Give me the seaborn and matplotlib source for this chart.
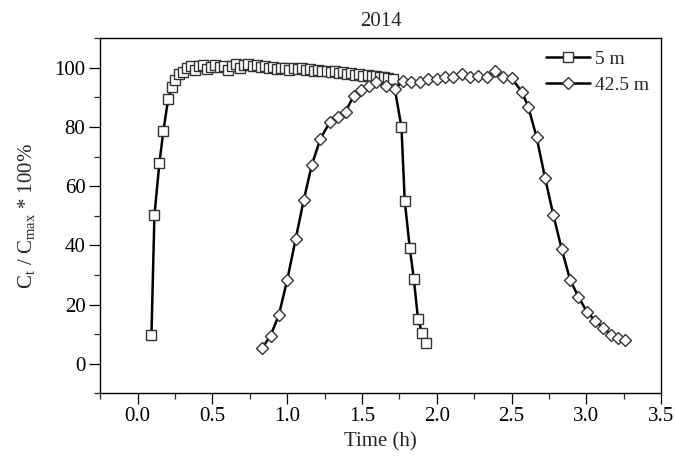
import matplotlib
matplotlib.use("Agg")
import matplotlib.pyplot as plt
import seaborn as sns
from matplotlib.ticker import MultipleLocator

# ---- data ----
sq_t = [0.092, 0.112, 0.145, 0.172, 0.204, 0.228, 0.250, 0.275,
        0.300, 0.328, 0.355, 0.383, 0.410, 0.438, 0.465, 0.493, 0.520, 0.548,
        0.575, 0.603, 0.630, 0.658, 0.685, 0.713, 0.740, 0.768, 0.795, 0.823,
        0.850, 0.878, 0.905, 0.933, 0.960, 0.988, 1.015, 1.043, 1.070, 1.098,
        1.125, 1.153, 1.180, 1.208, 1.235, 1.263, 1.290, 1.318, 1.345, 1.373,
        1.400, 1.428, 1.455, 1.483, 1.510, 1.538, 1.565, 1.593, 1.620, 1.648,
        1.675, 1.708, 1.764, 1.786, 1.820, 1.847, 1.875, 1.902, 1.925]
sq_v = [9.6, 50.2, 67.7, 78.8, 89.5, 93.4, 95.9, 97.9,
        98.6, 99.8, 100.8, 99.2, 100.5, 100.9, 99.6, 100.4, 101.0, 100.2,
        100.6, 99.4, 100.7, 101.2, 100.1, 100.9, 101.3, 100.5, 101.0, 100.3,
        100.8, 99.9, 100.4, 99.6, 100.1, 99.8, 99.3, 100.0, 99.5, 99.9,
        99.2, 99.7, 99.0, 99.4, 98.8, 99.1, 98.5, 98.9, 98.3, 98.6,
        98.0, 98.3, 97.7, 97.9, 97.4, 97.6, 97.1, 97.3, 96.9, 97.0,
        96.6, 96.2, 80.0, 55.0, 39.0, 28.5, 15.0, 10.5, 7.0]

di_t = [0.833, 0.889, 0.944, 1.000, 1.056, 1.110, 1.165, 1.222, 1.284, 1.340,
        1.390, 1.445, 1.496, 1.545, 1.597, 1.664, 1.719, 1.775, 1.831, 1.887,
        1.942, 1.999, 2.054, 2.110, 2.166, 2.222, 2.277, 2.333, 2.389, 2.445,
        2.501, 2.568, 2.612, 2.668, 2.724, 2.780, 2.836, 2.892, 2.947, 3.003,
        3.059, 3.115, 3.166, 3.215, 3.260]
di_v = [5.3, 9.5, 16.5, 28.3, 42.0, 55.2, 67.3, 76.0, 81.6, 83.3,
        85.2, 90.6, 92.5, 93.9, 95.1, 93.9, 92.8, 95.6, 95.1, 95.1,
        96.2, 96.2, 96.8, 96.8, 97.9, 96.8, 97.3, 96.8, 98.8, 96.8,
        96.5, 92.0, 86.9, 76.5, 62.9, 50.2, 38.7, 28.3, 22.7, 17.6,
        14.6, 12.0, 9.8, 8.7, 8.1]

labels = ["5 m", "42.5 m"]
title = "2014"
xlabel = "Time (h)"
ylabel = r"C$_\mathregular{t}$ / C$_\mathregular{max}$ * 100%"
xticks = [0.0, 0.5, 1.0, 1.5, 2.0, 2.5, 3.0, 3.5]
xticklabels = ["0.0", "0.5", "1.0", "1.5", "2.0", "2.5", "3.0", "3.5"]
yticks = [0, 20, 40, 60, 80, 100]

# ---- style ----
sns.set_style("white")
plt.rcParams["font.family"] = ["Liberation Serif", "DejaVu Serif"]
plt.rcParams["mathtext.fontset"] = "custom"
plt.rcParams["mathtext.rm"] = "Liberation Serif"
plt.rcParams["font.size"] = 15

fig = plt.figure(figsize=(6.75, 4.58), dpi=100)
ax = fig.add_axes([0.1486, 0.1413, 0.9793 - 0.1486, 0.9164 - 0.1413])

common = dict(color="black", lw=1.8, markerfacecolor="white",
              markeredgecolor="#333333", mew=1.0, sort=False, ax=ax)
sns.lineplot(x=sq_t, y=sq_v, marker="s", ms=7.2, label=labels[0], **common)
sns.lineplot(x=di_t, y=di_v, marker="D", ms=6.6, label=labels[1], **common)

ax.set_xlim(-0.25, 3.5)
ax.set_ylim(-10, 110)
ax.set_xticks(xticks)
ax.set_xticklabels(xticklabels)
ax.set_yticks(yticks)
ax.xaxis.set_minor_locator(MultipleLocator(0.25))
ax.yaxis.set_minor_locator(MultipleLocator(10))
ax.tick_params(which="major", direction="out", length=7.7, width=0.9,
               labelsize=15, bottom=True, left=True, top=False, right=False,
               colors="black")
ax.tick_params(axis="y", which="major", pad=3)
ax.tick_params(axis="x", which="major", pad=2)
ax.tick_params(which="minor", direction="out", length=4.3, width=0.9,
               bottom=True, left=True, top=False, right=False)
for s in ax.spines.values():
    s.set_linewidth(1.0)
    s.set_color("black")

ax.set_title(title, fontsize=15, pad=9)
ax.set_xlabel(xlabel, fontsize=15, labelpad=5)
ax.set_ylabel(ylabel, fontsize=15, labelpad=12)

leg = ax.legend(loc="upper right", frameon=False, fontsize=14,
                handlelength=2.3, handletextpad=0.25, labelspacing=0.45,
                borderaxespad=0.5, borderpad=0.1)

fig.savefig("out.png", dpi=100)
